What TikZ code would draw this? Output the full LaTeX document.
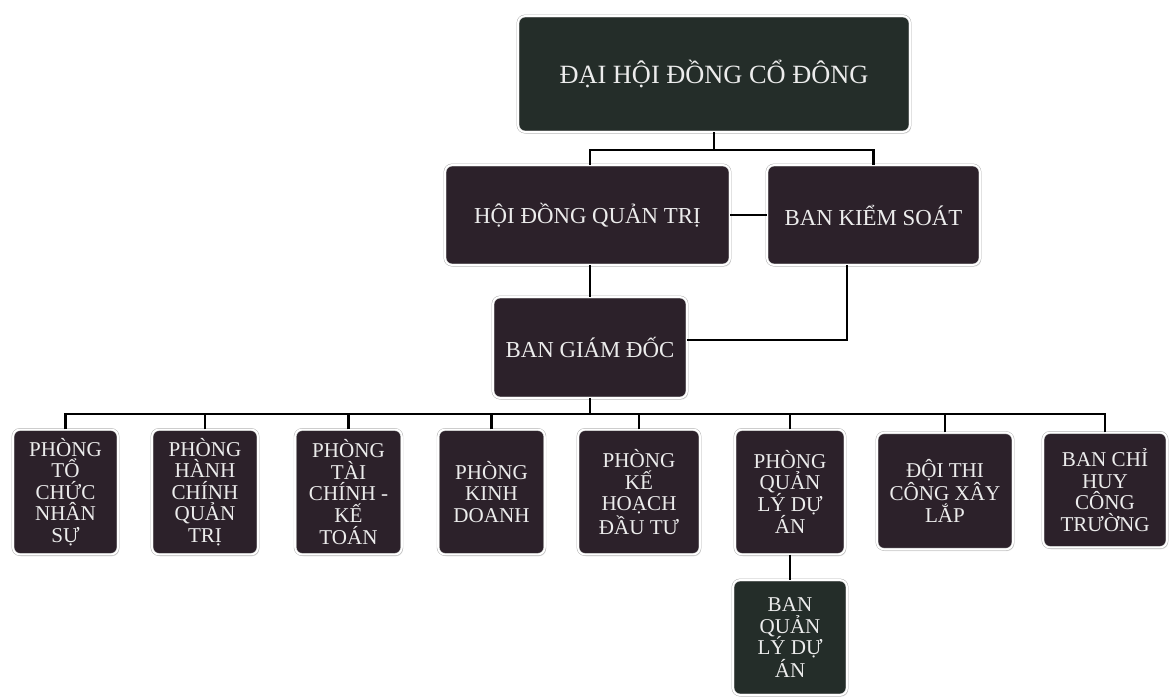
\documentclass[tikz,border=0pt]{standalone}
\usepackage{fontspec}
\setmainfont{Liberation Serif}
\usetikzlibrary{shadows}

\definecolor{unitfill}{RGB}{44,33,42}
\definecolor{unitgreen}{RGB}{36,45,41}
\definecolor{unittext}{RGB}{236,236,236}

\tikzset{
  unit/.style={rectangle, rounded corners=6pt, draw=gray!60, double=white,
    double distance=1.6pt, fill=unitfill, text=unittext, align=center,
    inner sep=2pt, drop shadow={shadow xshift=1pt, shadow yshift=-1.5pt, fill=gray!45}},
  big/.style={unit, font=\fontsize{22.5}{25}\selectfont},
  mid/.style={unit, font=\fontsize{19.5}{22}\selectfont},
  dept/.style={unit, minimum height=3.75cm, font=\fontsize{18}{18.4}\selectfont},
  link/.style={line width=1.9pt}
}

\begin{document}
\begin{tikzpicture}[x=0.03cm, y=-0.03cm]
\useasboundingbox (0,0) rectangle (1169,698);

% Top levels
\node[big, fill=unitgreen, minimum width=11.76cm, minimum height=3.48cm] (dhdcd) at (714,74) {ĐẠI HỘI ĐỒNG CỔ ĐÔNG};
\node[mid, minimum width=8.55cm, minimum height=3cm] (hdqt) at (587.5,215) {HỘI ĐỒNG QUẢN TRỊ};
\node[mid, minimum width=6.39cm, minimum height=3cm] (bks) at (873.5,215) {BAN KIỂM SOÁT};
\node[mid, minimum width=5.82cm, minimum height=3.03cm] (bgd) at (590,347.5) {BAN GIÁM ĐỐC};

% Departments
\node[dept, minimum width=3.15cm] (p1) at (65.5,492) {PHÒNG\\TỔ\\CHỨC\\NHÂN\\SỰ};
\node[dept, minimum width=3.18cm] (p2) at (205,492) {PHÒNG\\HÀNH\\CHÍNH\\QUẢN\\TRỊ};
\node[dept, minimum width=3.2cm] (p3) at (348.5,492) {PHÒNG\\TÀI\\CHÍNH -\\KẾ\\TOÁN};
\node[dept, minimum width=3.2cm] (p4) at (491.5,492) {PHÒNG\\KINH\\DOANH};
\node[dept, minimum width=3.66cm] (p5) at (639,492) {PHÒNG\\KẾ\\HOẠCH\\ĐẦU TƯ};
\node[dept, minimum width=3.3cm] (p6) at (790,492) {PHÒNG\\QUẢN\\LÝ DỰ\\ÁN};
\node[dept, minimum width=4.08cm, minimum height=3.5cm] (p7) at (945,491) {ĐỘI THI\\CÔNG XÂY\\LẮP};
\node[dept, minimum width=3.72cm, minimum height=3.45cm] (p8) at (1105,490) {BAN CHỈ\\HUY\\CÔNG\\TRƯỜNG};
\node[dept, fill=unitgreen, minimum width=3.42cm, minimum height=3.45cm] (bqlda) at (790,637.5) {BAN\\QUẢN\\LÝ DỰ\\ÁN};

% Connectors
\coordinate (top) at (714,150);
\coordinate (bus) at (590,414);

\draw[link] (dhdcd) -- (top);
\draw[link] (bgd.north |- hdqt.north) |- (top) -| (bks.north);
\draw[link] (hdqt) -- (bks);
\draw[link] (bgd.north |- hdqt.south) -- (bgd.north);
\draw[link] ([xshift=-0.8cm]bks.south) |- ([yshift=0.22cm]bgd.east);
\draw[link] (bgd) -- (bus);
\foreach \n in {p1,p2,p3,p4,p5,p6,p7,p8}
  \draw[link] (\n.north) |- (bus);
\draw[link] (p6) -- (bqlda);
\end{tikzpicture}
\end{document}
